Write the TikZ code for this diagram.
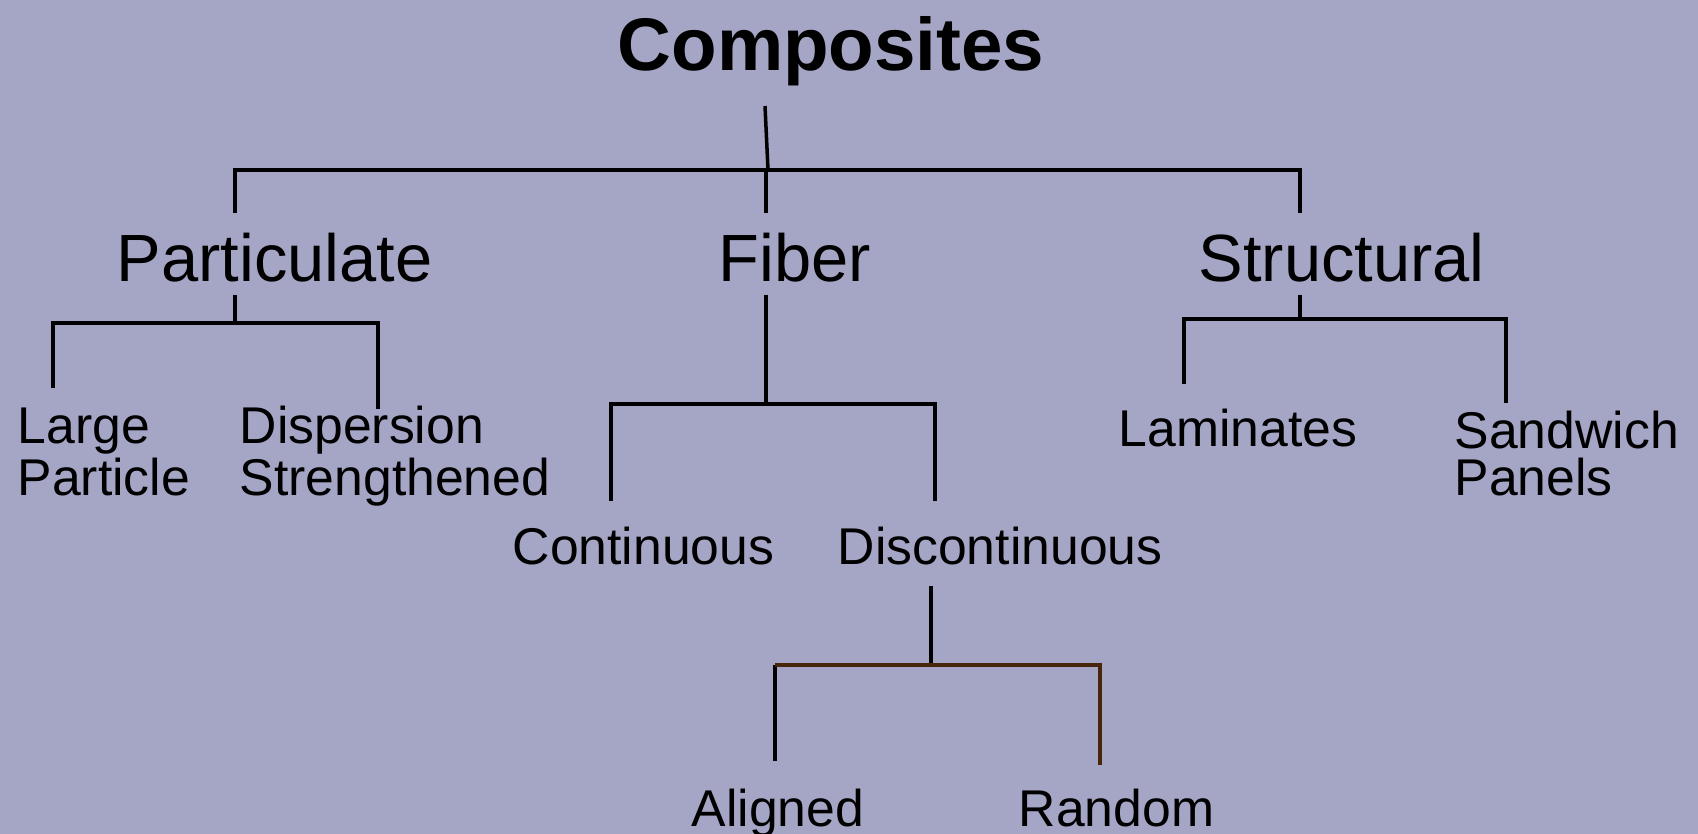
\documentclass[tikz,border=0pt]{standalone}
\usepackage{fontspec}
\setmainfont{Liberation Sans}
\usetikzlibrary{positioning}
\definecolor{bgpanel}{RGB}{165,165,198}
\definecolor{linkbrown}{RGB}{72,38,12}
\tikzset{
  root/.style ={font=\fontsize{21.2}{26}\selectfont\bfseries, inner sep=0pt, anchor=base west},
  kind/.style ={font=\fontsize{19}{23}\selectfont, inner sep=0pt, anchor=base west},
  leaf/.style ={font=\fontsize{14.7}{13.3}\selectfont, inner sep=0pt, anchor=base west, align=left},
  link/.style ={line width=1pt},
}
\begin{document}
\begin{tikzpicture}[x=0.01cm, y=-0.01cm]
  \fill[bgpanel] (0,0) rectangle (1698,834);
  \useasboundingbox (0,0) rectangle (1698,834);
  % classes (two-line labels sit on their last baseline)
  \node[root] (comp) at (617,71) {Composites};
  \node[kind] (part) at (116,282) {Particulate};
  \node[kind] (fib) at (718,282) {Fiber};
  \node[kind] (struc) at (1198,282) {Structural};
  \node[leaf] (large) at (17,495) {Large\\Particle};
  \node[leaf] (disp) at (239,495) {Dispersion\\Strengthened};
  \node[leaf] (cont) at (512,564) {Continuous};
  \node[leaf] (disc) at (837,564) {Discontinuous};
  \node[leaf] (lam) at (1118,447) {Laminates};
  \node[leaf] (sand) at (1454,495) {Sandwich\\Panels};
  \node[leaf] (alig) at (691,826) {Aligned};
  \node[leaf] (rand) at (1018,826) {Random};
  % top bracket
  \coordinate (t0) at (765,106);
  \coordinate (t1) at (768,170);
  \coordinate (p0) at (235,213);
  \coordinate (f0) at (766,213);
  \coordinate (s0) at (1300,213);
  \draw[link] (t0) -- (t1);
  \draw[link] (p0) |- (s0 |- t1) -- (s0);
  \draw[link] (f0) -- (f0 |- t1);
  % particulate
  \coordinate (p1) at (235,295);
  \coordinate (p2) at (235,323);
  \coordinate (lg) at (53,388);
  \coordinate (dp) at (378,409);
  \draw[link] (p1) -- (p2);
  \draw[link] (lg) |- (p2) -| (dp);
  % fiber
  \coordinate (f1) at (766,295);
  \coordinate (f2) at (766,404);
  \coordinate (ct) at (611,501);
  \coordinate (dc) at (935,501);
  \draw[link] (f1) -- (f2);
  \draw[link] (ct) |- (f2) -| (dc);
  % structural
  \coordinate (s1) at (1300,295);
  \coordinate (s2) at (1300,319);
  \coordinate (lm) at (1184,384);
  \coordinate (sw) at (1506,403);
  \draw[link] (s1) -- (s2);
  \draw[link] (lm) |- (s2) -| (sw);
  % discontinuous
  \coordinate (d1) at (931,586);
  \coordinate (d2) at (931,665);
  \coordinate (al) at (775,761);
  \coordinate (rd) at (1100,765);
  \draw[link] (d1) -- (d2);
  \draw[link] (al) -- (al |- d2);
  \draw[link, linkbrown] (al |- d2) -| (rd);
\end{tikzpicture}
\end{document}
